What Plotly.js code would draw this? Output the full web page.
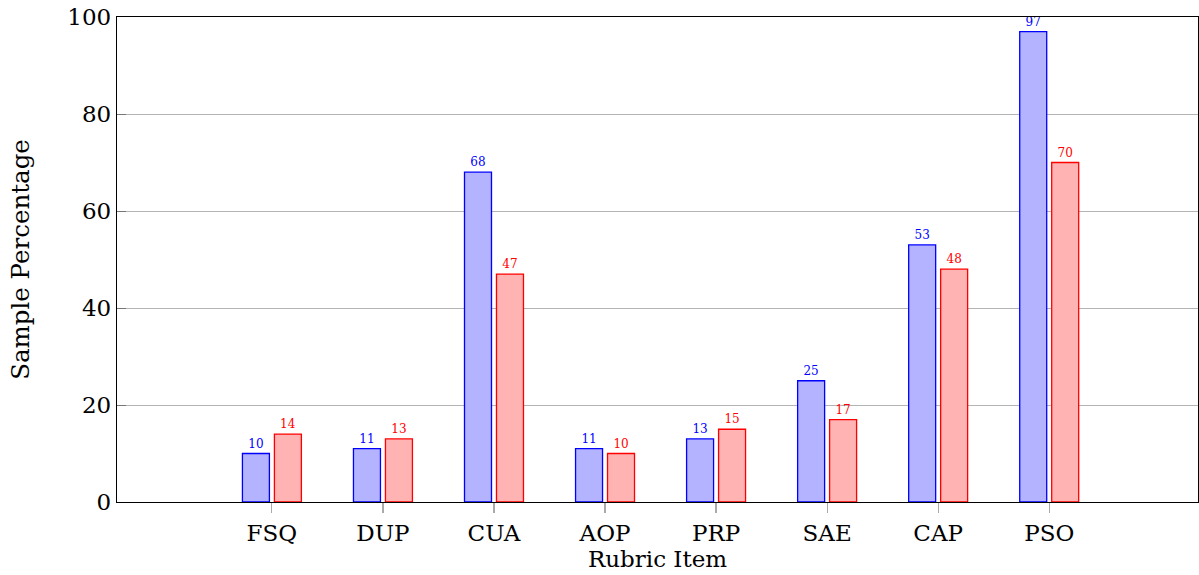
<!DOCTYPE html>
<html>
<head>
<meta charset="utf-8">
<script src="https://cdn.plot.ly/plotly-3.0.1.min.js"></script>
<style>html,body{margin:0;padding:0;background:#fff;}</style>
</head>
<body>
<div id="chart" style="width:1199px;height:575px;"></div>
<script>
const categories = ["FSQ","DUP","CUA","AOP","PRP","SAE","CAP","PSO"];
const seriesA = [10, 11, 68, 11, 13, 25, 53, 97];
const seriesB = [14, 13, 47, 10, 15, 17, 48, 70];
const idx = categories.map((c,i)=>i);
const FONT = "DejaVu Serif";

const traces = [
  {type:"bar", x: idx, y: seriesA, name:"A",
   marker:{color:"rgb(179,179,255)", line:{color:"rgb(0,0,255)", width:1.3}},
   text: seriesA.map(String), textposition:"outside", cliponaxis:false,
   textfont:{family:FONT, size:12, color:"rgb(0,0,255)"}},
  {type:"bar", x: idx, y: seriesB, name:"B",
   marker:{color:"rgb(255,179,179)", line:{color:"rgb(255,0,0)", width:1.3}},
   text: seriesB.map(String), textposition:"outside", cliponaxis:false,
   textfont:{family:FONT, size:12, color:"rgb(255,0,0)"}}
];

const layout = {
  width:1199, height:575,
  margin:{l:117, r:1, t:17, b:73},
  paper_bgcolor:"#fff", plot_bgcolor:"#fff",
  showlegend:false,
  barmode:"group", bargap:0.424, bargroupgap:0.156,
  font:{family:FONT, color:"#000"},
  xaxis:{
    range:[-1.395, 8.34], tickvals: idx, ticktext: categories,
    showgrid:false, zeroline:false,
    showline:true, linecolor:"#000", linewidth:1.2, mirror:true,
    ticks:"outside", ticklen:10, tickcolor:"#aaa", tickwidth:1.2,
    tickfont:{family:FONT, size:23, color:"#000"},
    title:{text:"Rubric Item", font:{family:FONT, size:23, color:"#000"}, standoff:5}
  },
  yaxis:{
    range:[0,100], tickvals:[0,20,40,60,80,100],
    showgrid:true, gridcolor:"#b4b4b4", gridwidth:1,
    zeroline:false,
    showline:true, linecolor:"#000", linewidth:1.2, mirror:true,
    ticks:"inside", ticklen:9, tickcolor:"#777", tickwidth:1,
    tickfont:{family:FONT, size:23, color:"#000"},
    title:{text:"Sample Percentage", font:{family:FONT, size:24.5, color:"#000"}, standoff:30}
  }
};
Plotly.newPlot("chart", traces, layout, {displayModeBar:false, staticPlot:true});
</script>
</body>
</html>
